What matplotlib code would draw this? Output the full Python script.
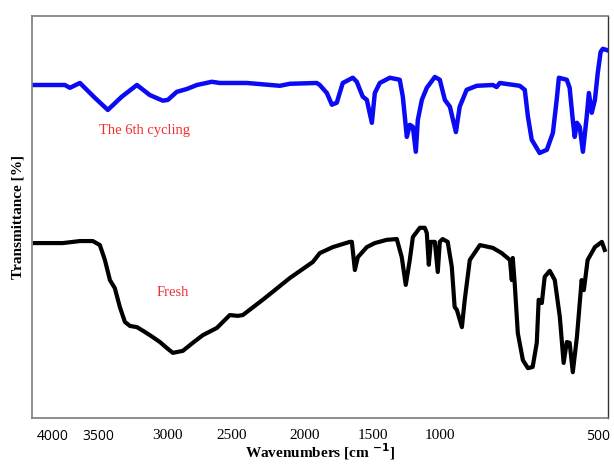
import numpy as np
import matplotlib
matplotlib.use("Agg")
import matplotlib.pyplot as plt

# tick labels of the reference sit at uneven spacing, so the x scale is
# piecewise linear between them
tick_values = [4000, 3500, 3000, 2500, 2000, 1500, 1000, 500]
tick_labels = ["4000", "3500", "3000", "2500", "2000", "1500", "1000", "500"]
tick_pos = [53, 98, 168, 232, 305, 373, 440, 598]

# 6th cycling (blue)
cyc_w = [4233, 4033, 3867, 3811, 3700, 3533, 3429, 3329, 3221, 3129, 3036, 3000,
         2930, 2852, 2773, 2656, 2594, 2397, 2171, 2103, 1912, 1890, 1838, 1801,
         1765, 1721, 1647, 1618, 1574, 1544, 1507, 1485, 1448, 1373, 1299, 1276,
         1246, 1224, 1201, 1179, 1164, 1134, 1097, 1037, 1000, 984, 968, 949,
         937, 915, 883, 832, 820, 810, 747, 731, 721, 709, 684, 661, 642, 630,
         623, 598, 589, 579, 573, 566, 557, 547, 535, 528, 519, 509, 500, 491,
         484, 472]
cyc_t = [82.8, 82.8, 82.8, 82.1, 83.3, 79.6, 76.6, 79.9, 82.8, 80.3, 78.9, 79.1,
         81.1, 81.8, 82.8, 83.6, 83.3, 83.3, 82.6, 83.1, 83.3, 82.8, 80.8, 77.9,
         78.4, 83.3, 84.6, 83.6, 79.9, 79.1, 73.4, 80.8, 83.3, 84.6, 84.1, 79.9,
         69.9, 72.9, 72.4, 66.2, 74.1, 79.1, 82.1, 84.8, 84.1, 79.1, 77.4, 71.1,
         77.4, 81.6, 82.6, 82.8, 82.3, 83.3, 82.6, 81.6, 74.9, 69.2, 65.9, 66.7,
         70.9, 79.1, 84.6, 84.1, 82.1, 74.1, 69.9, 73.4, 72.4, 66.2, 74.9, 80.8,
         75.9, 79.1, 85.8, 91.0, 91.8, 91.5]

# fresh (black)
fresh_w = [4200, 3889, 3700, 3556, 3486, 3450, 3414, 3379, 3343, 3307, 3271, 3221,
           3164, 3107, 3057, 3007, 2961, 2883, 2805, 2727, 2617, 2516, 2459, 2425,
           2288, 2103, 1941, 1890, 1794, 1669, 1654, 1632, 1610, 1544, 1485, 1396,
           1321, 1284, 1254, 1224, 1201, 1149, 1112, 1097, 1082, 1067, 1037, 1015,
           1000, 991, 975, 962, 953, 946, 930, 921, 905, 873, 832, 804, 778, 772,
           769, 763, 753, 737, 721, 706, 693, 687, 677, 668, 652, 636, 620, 608,
           598, 589, 579, 566, 551, 544, 532, 509, 487, 478]
fresh_t = [43.5, 43.5, 44.0, 44.0, 43.0, 39.3, 34.3, 32.3, 27.6, 23.9, 22.9, 22.6,
           21.4, 20.1, 18.9, 17.4, 16.2, 16.7, 18.7, 20.6, 22.4, 25.6, 25.4, 25.6,
           29.4, 34.8, 38.8, 41.0, 42.5, 43.8, 43.8, 36.8, 40.0, 42.5, 43.5, 44.3,
           44.5, 40.0, 33.1, 39.3, 45.0, 47.3, 47.3, 46.0, 38.1, 43.8, 43.8, 36.3,
           43.8, 44.5, 43.8, 37.6, 27.6, 26.9, 22.6, 29.4, 39.3, 43.0, 42.3, 41.0,
           39.3, 34.3, 39.8, 33.6, 21.1, 14.4, 12.4, 12.7, 18.7, 29.4, 28.6, 35.1,
           36.6, 34.3, 25.1, 13.7, 18.9, 18.7, 11.4, 20.1, 34.3, 31.8, 39.3, 42.5,
           43.8, 41.8]

wa = np.array(tick_values[::-1], float)
pa = np.array(tick_pos[::-1], float)


def fwd(w):
    w = np.asarray(w, float)
    p = np.interp(w, wa, pa)
    p = np.where(w < wa[0], pa[0] + (w - wa[0]) * (pa[1] - pa[0]) / (wa[1] - wa[0]), p)
    p = np.where(w > wa[-1], pa[-1] + (w - wa[-1]) * (pa[-1] - pa[-2]) / (wa[-1] - wa[-2]), p)
    return -p


def inv(q):
    p = -np.asarray(q, float)
    ps, ws = pa[::-1], wa[::-1]
    w = np.interp(p, ps, ws)
    w = np.where(p < ps[0], ws[0] + (p - ps[0]) * (ws[1] - ws[0]) / (ps[1] - ps[0]), w)
    w = np.where(p > ps[-1], ws[-1] + (p - ps[-1]) * (ws[-1] - ws[-2]) / (ps[-1] - ps[-2]), w)
    return w


plt.rcParams.update({"font.family": "Liberation Serif"})

fig = plt.figure(figsize=(6.14, 4.65), dpi=100)
ax = fig.add_axes([0.052, 0.101, 0.938, 0.865])
ax.set_xscale("function", functions=(fwd, inv))

ax.plot(cyc_w, cyc_t, color="#0a0af5", linewidth=3.2, solid_joinstyle="round")
ax.plot(fresh_w, fresh_t, color="black", linewidth=3.0, solid_joinstyle="round")

ax.set_xlim(4233, 468)
ax.set_ylim(0, 100)
ax.set_yticks([])
ax.set_xticks(tick_values)
ax.set_xticklabels(tick_labels, fontsize=11)
for lab, fam in zip(ax.get_xticklabels(), ["Open Sans", "Open Sans", None, None, None, None, None, "Open Sans"]):
    if fam:
        lab.set_fontfamily(fam)
        lab.set_fontsize(10)
ax.tick_params(axis="x", length=0, pad=8)

for side in ["left", "top", "bottom"]:
    ax.spines[side].set_color("#7a7a7a")
    ax.spines[side].set_linewidth(1.2)
ax.spines["right"].set_color("#333333")
ax.spines["right"].set_linewidth(1.0)

ax.text(3164, 71.6, "The 6th cycling", color="#f03030", fontsize=10.5,
        ha="center", va="center")
ax.text(2960, 31.3, "Fresh", color="#f03030", fontsize=10.5,
        ha="center", va="center")

ax.set_xlabel(r"Wavenumbers [cm $^{\mathbf{-1}}$]", fontsize=11, fontweight="bold",
              labelpad=-2)
ax.set_ylabel("Transmittance [%]", fontsize=11, fontweight="bold", labelpad=5)

fig.savefig("out.png", dpi=100)
